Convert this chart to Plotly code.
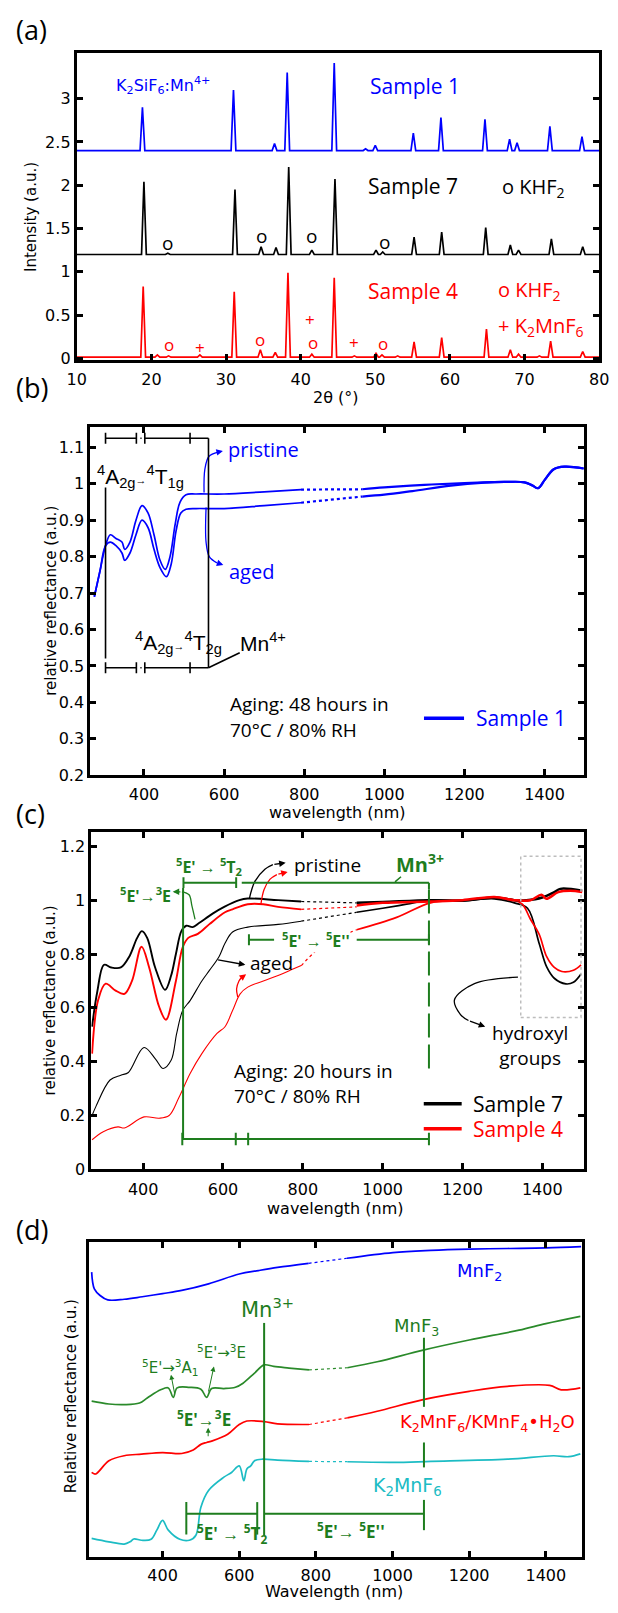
import plotly.graph_objects as go

# ================= DATA =================
# ---- (a) XRD peak tables (2theta, peak top) ----
s1_base = 2.40
s1_pos = [18.8, 31.0, 36.5, 38.2, 44.5, 48.7, 50.0, 55.1, 58.8, 64.7, 68.0, 69.0, 73.4, 77.7]
s1_top = [2.90, 3.10, 2.48, 3.30, 3.41, 2.42, 2.46, 2.60, 2.78, 2.76, 2.53, 2.49, 2.68, 2.56]
s7_base = 1.20
s7_pos = [19.0, 22.2, 31.2, 34.7, 36.7, 38.4, 41.5, 44.6, 50.1, 51.0, 55.2, 58.9, 64.8, 68.1, 69.2, 73.6, 77.8]
s7_top = [2.04, 1.215, 1.95, 1.29, 1.28, 2.21, 1.25, 2.07, 1.25, 1.23, 1.40, 1.46, 1.51, 1.31, 1.25, 1.38, 1.29]
s4_base = 0.015
s4_pos = [18.9, 20.8, 22.3, 26.5, 31.1, 34.6, 36.6, 38.3, 41.5, 44.5, 47.2, 50.1, 50.9, 53.0, 55.2, 58.9, 64.9, 68.1, 69.2, 72.0, 73.5, 77.8]
s4_top = [0.83, 0.04, 0.03, 0.04, 0.77, 0.10, 0.07, 0.99, 0.05, 0.93, 0.03, 0.06, 0.04, 0.03, 0.19, 0.24, 0.34, 0.10, 0.05, 0.03, 0.20, 0.08]
k_o_black = [(22.2, 1.33), (34.7, 1.41), (41.4, 1.41), (51.2, 1.35)]
k_o_red = [(22.3, 0.16), (34.6, 0.22), (41.6, 0.18), (51.1, 0.17)]
k_plus_red = [(26.5, 0.13), (41.2, 0.45), (47.2, 0.18)]
xrd_ticks = [10, 20, 30, 40, 50, 60, 70, 80]

# ---- (b) Sample 1 reflectance ----
b_pr_wl = [276, 290, 304, 316, 330, 345, 352, 365, 380, 395, 410, 425, 440, 453, 465, 478, 490, 505, 530, 600, 700, 792]
b_pr = [0.69, 0.76, 0.83, 0.86, 0.85, 0.84, 0.82, 0.84, 0.90, 0.94, 0.92, 0.86, 0.79, 0.765, 0.80, 0.89, 0.95, 0.97, 0.972, 0.972, 0.978, 0.984]
b_pr_gap_wl = [792, 945]
b_pr_gap = [0.984, 0.985]
b_pr_ir_wl = [945, 1000, 1100, 1200, 1300, 1350, 1370, 1384, 1400, 1423, 1450, 1498]
b_pr_ir = [0.985, 0.99, 0.997, 1.002, 1.005, 1.004, 0.995, 0.988, 1.01, 1.04, 1.047, 1.042]
b_ag_wl = [276, 290, 304, 316, 330, 345, 352, 365, 380, 395, 410, 425, 440, 456, 468, 480, 492, 505, 530, 600, 700, 792]
b_ag = [0.69, 0.76, 0.83, 0.84, 0.83, 0.81, 0.79, 0.81, 0.86, 0.90, 0.88, 0.82, 0.77, 0.745, 0.78, 0.87, 0.92, 0.93, 0.932, 0.932, 0.94, 0.948]
b_ag_gap_wl = [792, 945]
b_ag_gap = [0.948, 0.965]
b_ag_ir_wl = [945, 1000, 1070, 1166, 1250, 1300, 1350, 1370, 1384, 1400, 1423, 1450, 1498]
b_ag_ir = [0.965, 0.97, 0.98, 0.995, 1.003, 1.005, 1.004, 0.995, 0.988, 1.01, 1.04, 1.047, 1.042]

# ---- (c) Samples 7 and 4 ----
c7p_wl = [272, 285, 302, 320, 344, 365, 385, 397, 410, 430, 455, 470, 482, 496, 508, 524, 540, 574, 603, 641, 662, 738, 796]
c7p = [0.53, 0.66, 0.76, 0.75, 0.75, 0.79, 0.86, 0.885, 0.86, 0.75, 0.667, 0.72, 0.80, 0.886, 0.905, 0.90, 0.915, 0.95, 0.975, 1.0, 1.006, 1.0, 0.995]
c7p_gap_wl = [796, 935]
c7p_gap = [0.995, 0.99]
c7p_ir_wl = [935, 1000, 1120, 1200, 1280, 1330, 1360, 1400, 1430, 1445, 1500]
c7p_ir = [0.99, 0.993, 1.0, 0.998, 1.01, 1.0, 1.0, 1.01, 1.03, 1.042, 1.035]
c7a_wl = [272, 282, 317, 344, 363, 402, 431, 450, 470, 484, 499, 518, 547, 566, 590, 605, 624, 662, 738, 796]
c7a = [0.20, 0.235, 0.332, 0.35, 0.36, 0.453, 0.41, 0.375, 0.405, 0.505, 0.59, 0.628, 0.70, 0.739, 0.79, 0.84, 0.882, 0.90, 0.91, 0.922]
c7a_gap_wl = [796, 935]
c7a_gap = [0.922, 0.955]
c7a_ir_wl = [935, 1000, 1060, 1120, 1200, 1280, 1330, 1363, 1392, 1411, 1430, 1459, 1478, 1497]
c7a_ir = [0.955, 0.97, 0.985, 1.0, 0.998, 1.005, 0.99, 0.97, 0.84, 0.752, 0.71, 0.689, 0.695, 0.726]
c4p_wl = [272, 287, 306, 330, 353, 372, 396, 415, 440, 457, 482, 499, 513, 537, 566, 605, 624, 662, 701, 738, 796]
c4p = [0.43, 0.628, 0.69, 0.665, 0.652, 0.70, 0.827, 0.75, 0.604, 0.556, 0.70, 0.825, 0.86, 0.875, 0.911, 0.955, 0.966, 0.985, 0.985, 0.975, 0.966]
c4p_gap_wl = [796, 935]
c4p_gap = [0.966, 0.975]
c4p_ir_wl = [935, 1000, 1120, 1200, 1280, 1330, 1370, 1398, 1410, 1440, 1470, 1500]
c4p_ir = [0.98, 0.99, 0.995, 1.0, 1.012, 1.0, 1.0, 1.02, 1.005, 1.03, 1.035, 1.03]
c4a_wl = [272, 300, 337, 353, 402, 440, 465, 489, 518, 547, 585, 605, 624, 643, 662, 701, 738, 777, 796]
c4a = [0.11, 0.14, 0.158, 0.154, 0.195, 0.19, 0.20, 0.265, 0.357, 0.43, 0.505, 0.53, 0.59, 0.652, 0.677, 0.70, 0.72, 0.745, 0.757]
c4a_gap_wl = [796, 853, 935]
c4a_gap = [0.757, 0.835, 0.89]
c4a_ir_wl = [935, 1035, 1120, 1200, 1280, 1330, 1350, 1370, 1392, 1411, 1430, 1449, 1478, 1497]
c4a_ir = [0.89, 0.936, 0.99, 1.0, 1.01, 1.0, 0.985, 0.93, 0.874, 0.79, 0.75, 0.735, 0.74, 0.76]

# ---- (d) reference compounds (offset, arbitrary units) ----
d_mnf2_wl = [215, 222, 237, 257, 300, 347, 400, 450, 520, 600, 650, 700, 781]
d_mnf2 = [9.03, 8.5, 8.29, 8.15, 8.17, 8.25, 8.35, 8.45, 8.66, 8.97, 9.08, 9.18, 9.31]
d_mnf2_gap_wl = [781, 881]
d_mnf2_gap = [9.31, 9.47]
d_mnf2_ir_wl = [881, 1001, 1100, 1201, 1300, 1401, 1492]
d_mnf2_ir = [9.47, 9.65, 9.72, 9.76, 9.78, 9.80, 9.84]
d_mnf3_wl = [215, 260, 300, 340, 360, 395, 415, 428, 438, 470, 500, 515, 528, 560, 590, 610, 640, 665, 690, 730, 782]
d_mnf3 = [4.94, 4.85, 4.83, 4.88, 5.04, 5.30, 5.36, 5.06, 5.36, 5.38, 5.32, 5.06, 5.34, 5.34, 5.38, 5.51, 5.83, 6.09, 6.04, 5.99, 5.93]
d_mnf3_gap_wl = [782, 882]
d_mnf3_gap = [5.93, 6.00]
d_mnf3_ir_wl = [882, 960, 1080, 1200, 1330, 1400, 1490]
d_mnf3_ir = [6.00, 6.19, 6.56, 6.88, 7.19, 7.40, 7.63]
d_mix_wl = [215, 225, 260, 300, 345, 400, 450, 480, 500, 515, 530, 570, 600, 620, 665, 700, 782]
d_mix = [2.68, 2.63, 3.05, 3.21, 3.26, 3.31, 3.28, 3.39, 3.57, 3.63, 3.68, 3.89, 4.20, 4.31, 4.29, 4.22, 4.20]
d_mix_gap_wl = [782, 882]
d_mix_gap = [4.20, 4.41]
d_mix_ir_wl = [882, 960, 1080, 1200, 1300, 1410, 1440, 1490]
d_mix_ir = [4.41, 4.62, 4.99, 5.25, 5.41, 5.44, 5.30, 5.36]
d_k2_wl = [215, 260, 300, 315, 325, 345, 370, 385, 400, 415, 445, 470, 487, 500, 520, 560, 580, 600, 612, 620, 630, 640, 660, 700, 782]
d_k2 = [0.59, 0.48, 0.41, 0.48, 0.57, 0.53, 0.56, 0.85, 1.16, 0.85, 0.56, 0.53, 0.69, 1.58, 2.11, 2.53, 2.68, 2.89, 2.42, 2.79, 2.89, 3.05, 3.10, 3.07, 3.03]
d_k2_gap_wl = [782, 882]
d_k2_gap = [3.03, 3.02]
d_k2_ir_wl = [882, 1000, 1100, 1300, 1420, 1460, 1490]
d_k2_ir = [3.02, 3.00, 3.03, 3.10, 3.21, 3.18, 3.27]

# ================= STYLE =================
BLUE = "#0000ff"
RED = "#ff0000"
GREEN = "#1e7d1e"
CYAN = "#1cbcc4"
ARIAL = "DejaVu Sans"
CAL = "Open Sans"

W, H = 618, 1613


def px_x(a, b):
    return [a / W, b / W]


def px_y(top, bot):
    return [1 - bot / H, 1 - top / H]


fig = go.Figure()


def spikes(base, pos, top, w=0.32):
    xs, ys = [10], [base]
    for p, t in zip(pos, top):
        xs += [p - w, p, p + w]
        ys += [base, t, base]
    xs.append(80)
    ys.append(base)
    return xs, ys


def line(x, y, ax, color, width=1.6, dash="solid", shape="linear"):
    fig.add_trace(go.Scatter(x=x, y=y, mode="lines", xaxis="x" + ax, yaxis="y" + ax,
                             line=dict(color=color, width=width, dash=dash, shape=shape),
                             hoverinfo="skip", showlegend=False))


# (a)
for base, pos, top, col in [(s1_base, s1_pos, s1_top, BLUE), (s7_base, s7_pos, s7_top, "black"),
                            (s4_base, s4_pos, s4_top, RED)]:
    xs, ys = spikes(base, pos, top)
    line(xs, ys, "", col, 1.7)

# (b)
line(b_pr_wl, b_pr, "2", BLUE, 1.7, shape="spline")
line(b_pr_gap_wl, b_pr_gap, "2", BLUE, 2.2, "dot")
line(b_pr_ir_wl, b_pr_ir, "2", BLUE, 2.2, shape="spline")
line(b_ag_wl, b_ag, "2", BLUE, 1.7, shape="spline")
line(b_ag_gap_wl, b_ag_gap, "2", BLUE, 2.2, "dot")
line(b_ag_ir_wl, b_ag_ir, "2", BLUE, 2.2, shape="spline")

# (c)
for wl, v, g_wl, g, i_wl, i, col, w in [
    (c7a_wl, c7a, c7a_gap_wl, c7a_gap, c7a_ir_wl, c7a_ir, "black", 1.1),
    (c4a_wl, c4a, c4a_gap_wl, c4a_gap, c4a_ir_wl, c4a_ir, RED, 1.1),
    (c7p_wl, c7p, c7p_gap_wl, c7p_gap, c7p_ir_wl, c7p_ir, "black", 1.9),
    (c4p_wl, c4p, c4p_gap_wl, c4p_gap, c4p_ir_wl, c4p_ir, RED, 1.9),
]:
    line(wl, v, "3", col, w, shape="spline")
    line(g_wl, g, "3", col, 1.2, "dot", shape="spline")
    line(i_wl, i, "3", col, w + 0.6, shape="spline")

# (d)
for wl, v, g_wl, g, i_wl, i, col in [
    (d_mnf2_wl, d_mnf2, d_mnf2_gap_wl, d_mnf2_gap, d_mnf2_ir_wl, d_mnf2_ir, BLUE),
    (d_mnf3_wl, d_mnf3, d_mnf3_gap_wl, d_mnf3_gap, d_mnf3_ir_wl, d_mnf3_ir, "#2a8a2a"),
    (d_mix_wl, d_mix, d_mix_gap_wl, d_mix_gap, d_mix_ir_wl, d_mix_ir, RED),
    (d_k2_wl, d_k2, d_k2_gap_wl, d_k2_gap, d_k2_ir_wl, d_k2_ir, CYAN),
]:
    line(wl, v, "4", col, 1.7, shape="spline")
    line(g_wl, g, "4", col, 1.2, "dot")
    line(i_wl, i, "4", col, 1.7, shape="spline")

# curved arrow paths
curves = [
    ("2", [550, 552, 562, 585], [0.976, 1.04, 1.075, 1.087], BLUE),
    ("2", [555, 555, 563, 582], [0.935, 0.84, 0.80, 0.783], BLUE),
    ("3", [666, 680, 705, 725], [1.006, 1.07, 1.115, 1.132], "black"),
    ("3", [695, 703, 718, 735], [0.985, 1.04, 1.078, 1.095], RED),
    ("3", [637, 634, 640, 646], [0.64, 0.67, 0.70, 0.712], RED),
    ("3", [530, 522, 515, 497], [0.929, 0.98, 1.02, 1.031], GREEN),
    ("3", [1339, 1230, 1180, 1195, 1215], [0.714, 0.69, 0.63, 0.575, 0.553], "black"),
]
for ax, xs, ys, col in curves:
    line(xs, ys, ax, col, 1.3, shape="spline")


# ================= LAYOUT / AXES =================
def axstyle(**kw):
    d = dict(showline=True, linewidth=3, linecolor="black", mirror=True, ticks="inside",
             ticklen=6, tickwidth=2.5, tickcolor="black", showgrid=False, zeroline=False,
             tickfont=dict(family=ARIAL, size=16, color="black"))
    d.update(kw)
    return d


layout = dict(
    width=W, height=H, margin=dict(l=0, r=0, t=0, b=0), showlegend=False,
    plot_bgcolor="white", paper_bgcolor="white",
    xaxis=axstyle(domain=px_x(69, 609), range=[10, 80.02], tickvals=xrd_ticks, anchor="y",
                  ticklabelstandoff=3, ticklabeloverflow="allow"),
    yaxis=axstyle(domain=px_y(53, 362), range=[-0.015, 3.53], tickvals=[0, 0.5, 1, 1.5, 2, 2.5, 3],
                  anchor="x", mirror="ticks"),
    xaxis2=axstyle(domain=px_x(83, 593), range=[266, 1498], dtick=200, tick0=400, anchor="y2",
                   mirror="ticks", ticklabelstandoff=3),
    yaxis2=axstyle(domain=px_y(430, 780), range=[0.2, 1.155], dtick=0.1, tick0=0.2, anchor="x2", mirror="ticks"),
    xaxis3=axstyle(domain=px_x(84, 593), range=[270, 1504], dtick=200, tick0=400, anchor="y3",
                   mirror="ticks", ticklabelstandoff=3),
    yaxis3=axstyle(domain=px_y(836.7, 1176.7), range=[0, 1.255], dtick=0.2, tick0=0, anchor="x3", mirror="ticks"),
    xaxis4=axstyle(domain=px_x(82, 591), range=[209, 1494], dtick=200, tick0=400, anchor="y4",
                   mirror="ticks", ticklabelstandoff=2),
    yaxis4=axstyle(domain=px_y(1249.3, 1566.7), range=[0, 10], anchor="x4", ticks="", showticklabels=False),
)
fig.update_layout(**layout)

# ================= SHAPES =================
shapes = []


def seg(ax, x0, y0, x1, y1, color="black", width=1.6, dash="solid"):
    shapes.append(dict(type="line", xref="x" + ax, yref="y" + ax, x0=x0, y0=y0, x1=x1, y1=y1,
                       line=dict(color=color, width=width, dash=dash)))


# (b) Mn4+ brackets
for yb in (1.125, 0.495):
    seg("2", 304, yb, 381, yb)
    seg("2", 391, yb, 394, yb)
    seg("2", 402, yb, 561, yb)
    for xt in (304, 381, 402, 515):
        seg("2", xt, yb - 0.015, xt, yb + 0.015)
seg("2", 561, 1.125, 561, 0.495)
seg("2", 561, 0.495, 639, 0.536)
seg("2", 304, 0.99, 304, 0.52)
# (b) legend line
seg("2", 1099, 0.356, 1199, 0.356, BLUE, 3.5)

# (c) Mn3+ green markers
seg("3", 500, 1.045, 500, 0.113, GREEN, 2)
seg("3", 501, 1.065, 633, 1.065, GREEN, 2)
seg("3", 501, 1.045, 501, 1.085, GREEN, 2)
seg("3", 633, 1.045, 633, 1.085, GREEN, 2)
seg("3", 647, 1.065, 1116, 1.065, GREEN, 2)
seg("3", 1116, 1.065, 1116, 1.04, GREEN, 2)
seg("3", 1031, 1.068, 1046, 1.087, GREEN, 1.5)
seg("3", 1116, 1.04, 1116, 0.369, GREEN, 2, "24px,7px")
seg("3", 665, 0.853, 728, 0.853, GREEN, 2)
seg("3", 935, 0.853, 1116, 0.853, GREEN, 2)
seg("3", 665, 0.833, 665, 0.873, GREEN, 2)
seg("3", 1116, 0.833, 1116, 0.873, GREEN, 2)
seg("3", 498, 0.113, 1116, 0.113, GREEN, 2)
for xt in (498, 632, 663, 1116):
    seg("3", xt, 0.09, xt, 0.136, GREEN, 2)
shapes.append(dict(type="rect", xref="x3", yref="y3", x0=1346, y0=0.564, x1=1497, y1=1.163,
                   line=dict(color="#bdbdbd", width=1.5, dash="dot")))
seg("3", 1103, 0.244, 1198, 0.244, "black", 3.5)
seg("3", 1103, 0.151, 1198, 0.151, RED, 3.5)

# (d) green markers
seg("4", 665, 7.42, 665, 0.69, GREEN, 2)
seg("4", 1082, 6.95, 1082, 4.76, GREEN, 2)
seg("4", 1082, 3.63, 1082, 2.84, GREEN, 2)
seg("4", 1082, 1.81, 1082, 0.85, GREEN, 2)
seg("4", 462, 1.37, 647, 1.37, GREEN, 2)
seg("4", 462, 0.71, 462, 1.74, GREEN, 2)
seg("4", 647, 0.71, 647, 1.74, GREEN, 2)
seg("4", 665, 1.37, 1082, 1.37, GREEN, 2)

fig.update_layout(shapes=shapes)

# ================= ANNOTATIONS =================
ann = []


def txt(ax, x, y, text, color="black", size=16, family=CAL, xanchor="center", yanchor="middle", bg=None, **kw):
    xr = "paper" if ax == "p" else "x" + ax
    yr = "paper" if ax == "p" else "y" + ax
    d = dict(xref=xr, yref=yr, x=x, y=y, text=text, showarrow=False, xanchor=xanchor, yanchor=yanchor,
             font=dict(color=color, size=size, family=family), borderpad=0)
    if bg:
        d["bgcolor"] = bg
    d.update(kw)
    ann.append(d)


def arrow(ax, x, y, tx, ty, color="black", width=1.3):
    ann.append(dict(xref="x" + ax, yref="y" + ax, axref="x" + ax, ayref="y" + ax, x=x, y=y, ax=tx, ay=ty,
                    text="", showarrow=True, arrowhead=2, arrowsize=1, arrowwidth=width, arrowcolor=color,
                    standoff=0, startstandoff=0))


def P(xp, yp):
    return xp / W, 1 - yp / H


# panel letters
for lab, yp in [("(a)", 30), ("(b)", 390), ("(c)", 819), ("(d)", 1237)]:
    x, y = P(5, yp)
    txt("p", x, y, lab, size=27, family=CAL, xanchor="left")

# axis titles
x, y = P(21, 218); txt("p", x, y, "Intensity (a.u.)", size=15, family=ARIAL, textangle=-90)
x, y = P(337, 400); txt("p", x, y, "2θ (°)", size=16, family=ARIAL)
x, y = P(43, 605); txt("p", x, y, "relative reflectance (a.u.)", size=15, family=ARIAL, textangle=-90)
x, y = P(338, 818); txt("p", x, y, "wavelength (nm)", size=16, family=ARIAL)
x, y = P(41, 1007); txt("p", x, y, "relative reflectance (a.u.)", size=15, family=ARIAL, textangle=-90)
x, y = P(336, 1216); txt("p", x, y, "wavelength (nm)", size=16, family=ARIAL)
x, y = P(63, 1405); txt("p", x, y, "Relative reflectance (a.u.)", size=15, family=ARIAL, textangle=-90)
x, y = P(335, 1601); txt("p", x, y, "Wavelength (nm)", size=16, family=ARIAL)

# (a) labels
txt("", 21.5, 3.15, "K<sub>2</sub>SiF<sub>6</sub>:Mn<sup>4+</sup>", BLUE, 16, ARIAL)
txt("", 55.3, 3.15, "Sample 1", BLUE, 21)
txt("", 55.0, 1.99, "Sample 7", "black", 21)
txt("", 66.9, 1.97, "o KHF<sub>2</sub>", "black", 20, xanchor="left")
txt("", 55.0, 0.78, "Sample 4", RED, 21)
txt("", 66.3, 0.79, "o KHF<sub>2</sub>", RED, 20, xanchor="left")
txt("", 66.3, 0.37, "+ K<sub>2</sub>MnF<sub>6</sub>", RED, 20, xanchor="left")
for (xx, yy) in k_o_black:
    txt("", xx, yy, "o", "black", 19)
for (xx, yy) in k_o_red:
    txt("", xx, yy, "o", RED, 17)
for (xx, yy) in k_plus_red:
    txt("", xx, yy, "+", RED, 17)

# (b) labels
ARR = "<span style='font-size:11px'>→</span>"
txt("2", 281, 1.02, "<sup>4</sup>A<sub>2g</sub>" + ARR + "<sup>4</sup>T<sub>1g</sub>", "black", 21, "Liberation Sans", xanchor="left")
txt("2", 374, 0.565, "<sup>4</sup>A<sub>2g</sub>" + ARR + "<sup>4</sup>T<sub>2g</sub>", "black", 21, "Liberation Sans", xanchor="left")
txt("2", 637, 0.565, "Mn<sup>4+</sup>", "black", 21, "Liberation Sans", xanchor="left")
txt("2", 606, 1.095, "pristine", BLUE, 20, xanchor="left")
txt("2", 610, 0.76, "aged", BLUE, 20, xanchor="left")
txt("2", 611, 0.396, "Aging: 48 hours in", "black", 19, xanchor="left")
txt("2", 611, 0.323, "70°C / 80% RH", "black", 19, xanchor="left")
txt("2", 1226, 0.356, "Sample 1", BLUE, 21, xanchor="left")
arrow("2", 597, 1.09, 585, 1.087, BLUE)
arrow("2", 598, 0.777, 582, 0.783, BLUE)

# (c) labels
txt("3", 566, 1.125, "<b><sup>5</sup>E' → <sup>5</sup>T<sub>2</sub></b>", GREEN, 16, CAL)
txt("3", 405, 1.02, "<b><sup>5</sup>E'→<sup>3</sup>E</b>", GREEN, 16, CAL)
txt("3", 1094, 1.135, "<b>Mn<sup>3+</sup></b>", GREEN, 20, CAL)
txt("3", 776, 1.13, "pristine", "black", 19, xanchor="left")
txt("3", 664, 0.766, "aged", "black", 19, xanchor="left")
txt("3", 833, 0.853, "<b><sup>5</sup>E' → <sup>5</sup>E''</b>", GREEN, 16, CAL, bg="white")
txt("3", 1368, 0.46, "hydroxyl<br>groups", "black", 19)
txt("3", 626, 0.364, "Aging: 20 hours in", "black", 19, xanchor="left")
txt("3", 626, 0.272, "70°C / 80% RH", "black", 19, xanchor="left")
txt("3", 1225, 0.244, "Sample 7", "black", 21, xanchor="left")
txt("3", 1225, 0.151, "Sample 4", RED, 21, xanchor="left")
arrow("3", 757, 1.139, 725, 1.132)
arrow("3", 762, 1.105, 735, 1.095, RED)
arrow("3", 656, 0.76, 584, 0.779)
arrow("3", 658, 0.725, 646, 0.712, RED)
arrow("3", 474, 1.031, 497, 1.031, GREEN)
arrow("3", 1257, 0.53, 1215, 0.553)

# (d) labels
txt("4", 1227, 9.05, "MnF<sub>2</sub>", BLUE, 18, ARIAL)
txt("4", 675, 7.9, "Mn<sup>3+</sup>", GREEN, 21, ARIAL)
txt("4", 1062, 7.3, "MnF<sub>3</sub>", GREEN, 18, ARIAL)
txt("4", 422, 6.0, "<sup>5</sup>E'→<sup>3</sup>A<sub>1</sub>", GREEN, 15, ARIAL)
txt("4", 555, 6.5, "<sup>5</sup>E'→<sup>3</sup>E", GREEN, 15, ARIAL)
txt("4", 509, 4.38, "<b><sup>5</sup>E'→<sup>3</sup>E</b>", GREEN, 17, CAL)
txt("4", 1248, 4.25, "K<sub>2</sub>MnF<sub>6</sub>/KMnF<sub>4</sub>•H<sub>2</sub>O", RED, 18, ARIAL)
txt("4", 1039, 2.25, "K<sub>2</sub>MnF<sub>6</sub>", CYAN, 19, ARIAL)
txt("4", 580, 0.75, "<b><sup>5</sup>E' → <sup>5</sup>T<sub>2</sub></b>", GREEN, 17, CAL)
txt("4", 892, 0.85, "<b><sup>5</sup>E'→ <sup>5</sup>E''</b>", GREEN, 17, CAL)
arrow("4", 422, 5.78, 432, 5.15, GREEN, 1)
arrow("4", 534, 6.04, 519, 5.2, GREEN, 1)
arrow("4", 519, 4.1, 519, 3.78, GREEN, 1)

fig.update_layout(annotations=ann)
fig.write_html("out.html", config={"displayModeBar": False},
               post_script="document.body.style.margin='0px';")
